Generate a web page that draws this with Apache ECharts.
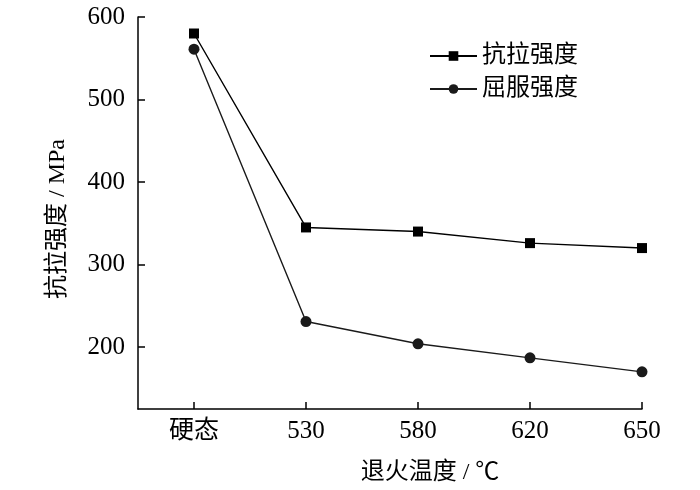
<!DOCTYPE html>
<html>
<head>
<meta charset="utf-8">
<script src="https://cdn.jsdelivr.net/npm/echarts@6/dist/echarts.min.js"></script>
<style>
  html, body { margin: 0; padding: 0; background: #fff; }
  #main { width: 700px; height: 490px; }
</style>
</head>
<body>
<div id="main"></div>
<script>
// 退火温度
const categories = ['硬态', '530', '580', '620', '650'];
// 抗拉强度 / 屈服强度 (MPa)
const tensile = [580, 345, 340, 326, 320];
const yieldStr = [561, 231, 204, 187, 170];
const yTicks = [200, 300, 400, 500, 600];

const FONT = '"Liberation Serif", "Times New Roman", "Noto Sans CJK SC", serif';

// 横轴按序号画, 标签用 categories
const pairs = arr => arr.map((v, i) => [i, v]);
const xTicks = categories.map((c, i) => i);

const chartDom = document.getElementById('main');
const myChart = echarts.init(chartDom);
const option = {
  animation: false,
  backgroundColor: '#fff',
  textStyle: { fontFamily: FONT, color: '#000' },
  grid: { left: 138, right: 58, top: 17, bottom: 78 },
  legend: {
    orient: 'vertical',
    left: 424,
    top: 39,
    itemWidth: 47,
    itemHeight: 12,
    itemGap: 9,
    textStyle: { fontFamily: FONT, fontSize: 24, color: '#000', lineHeight: 24 },
    data: ['抗拉强度', '屈服强度']
  },
  xAxis: {
    type: 'value',
    min: -0.5,
    max: 4,
    name: '退火温度 / ℃',
    nameLocation: 'middle',
    nameGap: 52,
    nameTextStyle: { fontFamily: FONT, fontSize: 24, color: '#000', padding: [0, 0, 0, 80] },
    axisLine: { show: true, onZero: false, lineStyle: { color: '#000', width: 1.5 } },
    axisTick: { show: true, inside: true, length: 7, customValues: xTicks, lineStyle: { color: '#000', width: 1.5 } },
    axisLabel: {
      customValues: xTicks,
      formatter: v => categories[v],
      fontFamily: FONT, fontSize: 25, color: '#000', margin: 10
    },
    splitLine: { show: false }
  },
  yAxis: {
    type: 'value',
    min: 125,
    max: 600,
    name: '抗拉强度 / MPa',
    nameLocation: 'middle',
    nameGap: 68,
    nameRotate: 90,
    nameTextStyle: { fontFamily: FONT, fontSize: 24, color: '#000', padding: [0, 12, 0, 0] },
    axisLine: { show: true, onZero: false, lineStyle: { color: '#000', width: 1.5 } },
    axisTick: { show: true, inside: true, length: 7, customValues: yTicks, lineStyle: { color: '#000', width: 1.5 } },
    axisLabel: { customValues: yTicks, fontFamily: FONT, fontSize: 25, color: '#000', margin: 13 },
    splitLine: { show: false }
  },
  series: [
    {
      name: '抗拉强度',
      type: 'line',
      data: pairs(tensile),
      symbol: 'rect',
      symbolSize: 10,
      itemStyle: { color: '#000' },
      lineStyle: { color: '#000', width: 1.4 }
    },
    {
      name: '屈服强度',
      type: 'line',
      data: pairs(yieldStr),
      symbol: 'circle',
      symbolSize: 11,
      itemStyle: { color: '#1a1a1a' },
      lineStyle: { color: '#1a1a1a', width: 1.4 }
    }
  ]
};

option && myChart.setOption(option);
</script>
</body>
</html>
